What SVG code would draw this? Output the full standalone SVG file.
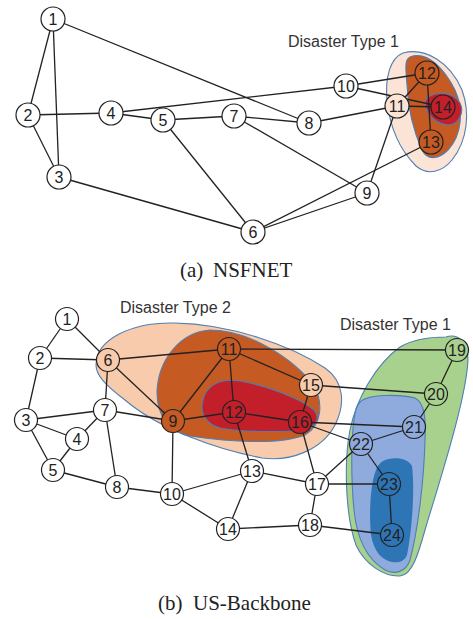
<svg xmlns="http://www.w3.org/2000/svg" width="473" height="619" viewBox="0 0 473 619">
<style>
.e{stroke:#222;stroke-width:1.3;fill:none}
.n circle{stroke:#222;stroke-width:1.2;fill:#fff}
.n text{font-family:"Liberation Sans",Arial,sans-serif;font-size:16px;fill:#222;text-anchor:middle}
.lbl{font-family:"Liberation Sans",Arial,sans-serif;font-size:16px;fill:#333}
.cap{font-family:"Liberation Serif","Times New Roman",serif;font-size:21px;fill:#222}
.ol{stroke:#4f7fb3;stroke-width:1.1}
</style>
<rect width="473" height="619" fill="#fff"/>
<!-- regions NSFNET -->
<g id="regions-a">
<path class="ol" fill="#fbe4d6" d="M403,53 C425,47 450,62 462,90 C470,112 468,140 452,160 C442,172 428,176 416,166 C402,152 390,130 387,100 C385,78 390,58 403,53 Z"/>
<path class="ol" fill="#c55a22" stroke-width="0.8" d="M410,57 C428,50 445,70 455,90 C464,110 462,135 448,150 C440,158 428,162 422,150 C414,132 408,110 407,85 C406,70 404,60 410,57 Z"/>
<path class="ol" fill="#c21f2a" d="M427,98 C435,92 452,90 460,103 C465,113 458,125 448,125 C438,124 430,118 426,108 C425,103 425,100 427,98 Z"/>
</g>
<!-- regions US-Backbone -->
<g id="regions-b">
<path class="ol" fill="#f8cbad" d="M96,365 C96,340 130,322 175,323 C230,324 290,345 325,368 C345,382 345,405 335,425 C322,450 290,462 262,458 C220,450 160,430 125,400 C105,385 96,375 96,365 Z"/>
<path class="ol" fill="#c55a22" stroke-width="0.8" d="M157,392 C158,360 180,332 210,330 C250,330 295,360 313,385 C324,402 322,425 305,435 C280,445 230,442 190,436 C168,432 157,415 157,392 Z"/>
<path class="ol" fill="#c21f2a" stroke-width="0.8" d="M202,405 C204,385 220,378 240,381 C265,385 300,398 314,410 C322,420 315,430 295,431 C270,432 240,432 220,428 C208,425 201,415 202,405 Z"/>
<path class="ol" fill="#a9d18e" d="M446,337 C458,333 468,342 468,360 C466,400 440,480 425,530 C418,555 412,575 400,576 C385,577 365,565 356,545 C345,515 344,460 350,430 C356,400 375,365 400,347 C415,338 432,337 446,337 Z"/>
<path class="ol" fill="#8faadc" d="M360,402 C368,394 400,394 415,398 C425,403 426,420 425,440 C424,480 418,530 410,560 C406,572 395,575 385,570 C368,560 357,540 354,510 C351,480 351,440 354,420 C355,410 357,405 360,402 Z"/>
<path fill="#2e75b6" d="M383,461 C393,456 408,458 412,466 C415,490 412,530 407,555 C404,562 398,563 392,562 C382,560 374,552 371,535 C369,515 370,485 376,470 C378,465 380,463 383,461 Z"/>
</g>
<g id="labels">
<text class="lbl" x="288" y="47">Disaster Type 1</text>
<text class="lbl" x="120" y="313">Disaster Type 2</text>
<text class="lbl" x="340" y="330">Disaster Type 1</text>
<text class="cap" x="180" y="277">(a)</text>
<text class="cap" x="213" y="277">NSFNET</text>
<text class="cap" x="158" y="610">(b)</text>
<text class="cap" x="193" y="610">US-Backbone</text>
</g>
<g id="connectors-a">
<line class="e" x1="53" y1="19" x2="28" y2="115"/>
<line class="e" x1="53" y1="19" x2="59" y2="177"/>
<line class="e" x1="53" y1="19" x2="309" y2="123"/>
<line class="e" x1="28" y1="115" x2="59" y2="177"/>
<line class="e" x1="28" y1="115" x2="111" y2="113"/>
<line class="e" x1="59" y1="177" x2="253" y2="232"/>
<line class="e" x1="111" y1="113" x2="163" y2="120"/>
<line class="e" x1="111" y1="113" x2="346" y2="86"/>
<line class="e" x1="163" y1="120" x2="234" y2="116"/>
<line class="e" x1="163" y1="120" x2="253" y2="232"/>
<line class="e" x1="234" y1="116" x2="309" y2="123"/>
<line class="e" x1="234" y1="116" x2="367" y2="193"/>
<line class="e" x1="309" y1="123" x2="397" y2="106"/>
<line class="e" x1="346" y1="86" x2="427" y2="73"/>
<line class="e" x1="346" y1="86" x2="443" y2="107"/>
<line class="e" x1="397" y1="106" x2="427" y2="73"/>
<line class="e" x1="397" y1="106" x2="443" y2="107"/>
<line class="e" x1="427" y1="73" x2="431" y2="142"/>
<line class="e" x1="397" y1="106" x2="367" y2="193"/>
<line class="e" x1="253" y1="232" x2="431" y2="142"/>
<line class="e" x1="253" y1="232" x2="367" y2="193"/>
</g>
<g id="connectors-b">
<line class="e" x1="67" y1="319" x2="40" y2="358"/>
<line class="e" x1="67" y1="319" x2="108" y2="360"/>
<line class="e" x1="40" y1="358" x2="108" y2="360"/>
<line class="e" x1="40" y1="358" x2="26" y2="420"/>
<line class="e" x1="26" y1="420" x2="105" y2="410"/>
<line class="e" x1="26" y1="420" x2="77" y2="439"/>
<line class="e" x1="26" y1="420" x2="53" y2="470"/>
<line class="e" x1="77" y1="439" x2="105" y2="410"/>
<line class="e" x1="77" y1="439" x2="53" y2="470"/>
<line class="e" x1="53" y1="470" x2="117" y2="487"/>
<line class="e" x1="108" y1="360" x2="105" y2="410"/>
<line class="e" x1="108" y1="360" x2="173" y2="421"/>
<line class="e" x1="108" y1="360" x2="229" y2="349"/>
<line class="e" x1="105" y1="410" x2="173" y2="421"/>
<line class="e" x1="105" y1="410" x2="117" y2="487"/>
<line class="e" x1="117" y1="487" x2="172" y2="494"/>
<line class="e" x1="173" y1="421" x2="172" y2="494"/>
<line class="e" x1="173" y1="421" x2="229" y2="349"/>
<line class="e" x1="173" y1="421" x2="234" y2="412"/>
<line class="e" x1="229" y1="349" x2="234" y2="412"/>
<line class="e" x1="229" y1="349" x2="311" y2="385"/>
<line class="e" x1="229" y1="349" x2="457" y2="350"/>
<line class="e" x1="234" y1="412" x2="300" y2="422"/>
<line class="e" x1="234" y1="412" x2="252" y2="471"/>
<line class="e" x1="311" y1="385" x2="300" y2="422"/>
<line class="e" x1="311" y1="385" x2="436" y2="394"/>
<line class="e" x1="300" y1="422" x2="414" y2="427"/>
<line class="e" x1="300" y1="422" x2="361" y2="444"/>
<line class="e" x1="300" y1="422" x2="317" y2="484"/>
<line class="e" x1="252" y1="471" x2="317" y2="484"/>
<line class="e" x1="252" y1="471" x2="172" y2="494"/>
<line class="e" x1="252" y1="471" x2="228" y2="529"/>
<line class="e" x1="172" y1="494" x2="228" y2="529"/>
<line class="e" x1="228" y1="529" x2="310" y2="525"/>
<line class="e" x1="310" y1="525" x2="317" y2="484"/>
<line class="e" x1="310" y1="525" x2="392" y2="535"/>
<line class="e" x1="317" y1="484" x2="361" y2="444"/>
<line class="e" x1="317" y1="484" x2="389" y2="484"/>
<line class="e" x1="361" y1="444" x2="414" y2="427"/>
<line class="e" x1="361" y1="444" x2="389" y2="484"/>
<line class="e" x1="389" y1="484" x2="392" y2="535"/>
<line class="e" x1="414" y1="427" x2="436" y2="394"/>
<line class="e" x1="436" y1="394" x2="457" y2="350"/>
</g>
<g id="nodes-a">
<g id="a1" class="n"><circle cx="53" cy="19" r="12"/><text x="53" y="24.7">1</text></g>
<g id="a2" class="n"><circle cx="28" cy="115" r="12"/><text x="28" y="120.7">2</text></g>
<g id="a3" class="n"><circle cx="59" cy="177" r="12"/><text x="59" y="182.7">3</text></g>
<g id="a4" class="n"><circle cx="111" cy="113" r="12"/><text x="111" y="118.7">4</text></g>
<g id="a5" class="n"><circle cx="163" cy="120" r="12"/><text x="163" y="125.7">5</text></g>
<g id="a6" class="n"><circle cx="253" cy="232" r="12"/><text x="253" y="237.7">6</text></g>
<g id="a7" class="n"><circle cx="234" cy="116" r="12"/><text x="234" y="121.7">7</text></g>
<g id="a8" class="n"><circle cx="309" cy="123" r="12"/><text x="309" y="128.7">8</text></g>
<g id="a9" class="n"><circle cx="367" cy="193" r="12"/><text x="367" y="198.7">9</text></g>
<g id="a10" class="n"><circle cx="346" cy="86" r="12"/><text x="346" y="91.7">10</text></g>
<g id="a11" class="n"><circle cx="397" cy="106" r="12" style="fill:#fbe4d6"/><text x="397" y="111.7">11</text></g>
<g id="a12" class="n"><circle cx="427" cy="73" r="12" style="fill:#c55a22"/><text x="427" y="78.7">12</text></g>
<g id="a13" class="n"><circle cx="431" cy="142" r="12" style="fill:#c55a22"/><text x="431" y="147.7">13</text></g>
<g id="a14" class="n"><circle cx="443" cy="107" r="12" style="fill:#c21f2a"/><text x="443" y="112.7">14</text></g>
</g>
<g id="nodes-b">
<g id="b1" class="n"><circle cx="67" cy="319" r="11.5"/><text x="67" y="324.7">1</text></g>
<g id="b2" class="n"><circle cx="40" cy="358" r="11.5"/><text x="40" y="363.7">2</text></g>
<g id="b3" class="n"><circle cx="26" cy="420" r="11.5"/><text x="26" y="425.7">3</text></g>
<g id="b4" class="n"><circle cx="77" cy="439" r="11.5"/><text x="77" y="444.7">4</text></g>
<g id="b5" class="n"><circle cx="53" cy="470" r="11.5"/><text x="53" y="475.7">5</text></g>
<g id="b6" class="n"><circle cx="108" cy="360" r="11.5" style="fill:#f8cbad"/><text x="108" y="365.7">6</text></g>
<g id="b7" class="n"><circle cx="105" cy="410" r="11.5"/><text x="105" y="415.7">7</text></g>
<g id="b8" class="n"><circle cx="117" cy="487" r="11.5"/><text x="117" y="492.7">8</text></g>
<g id="b9" class="n"><circle cx="173" cy="421" r="11.5" style="fill:#c55a22"/><text x="173" y="426.7">9</text></g>
<g id="b10" class="n"><circle cx="172" cy="494" r="11.5"/><text x="172" y="499.7">10</text></g>
<g id="b11" class="n"><circle cx="229" cy="349" r="11.5" style="fill:#c55a22"/><text x="229" y="354.7">11</text></g>
<g id="b12" class="n"><circle cx="234" cy="412" r="11.5" style="fill:#c21f2a"/><text x="234" y="417.7">12</text></g>
<g id="b13" class="n"><circle cx="252" cy="471" r="11.5"/><text x="252" y="476.7">13</text></g>
<g id="b14" class="n"><circle cx="228" cy="529" r="11.5"/><text x="228" y="534.7">14</text></g>
<g id="b15" class="n"><circle cx="311" cy="385" r="11.5" style="fill:#f8cbad"/><text x="311" y="390.7">15</text></g>
<g id="b16" class="n"><circle cx="300" cy="422" r="11.5" style="fill:#c21f2a"/><text x="300" y="427.7">16</text></g>
<g id="b17" class="n"><circle cx="317" cy="484" r="11.5"/><text x="317" y="489.7">17</text></g>
<g id="b18" class="n"><circle cx="310" cy="525" r="11.5"/><text x="310" y="530.7">18</text></g>
<g id="b19" class="n"><circle cx="457" cy="350" r="11.5" style="fill:#a9d18e"/><text x="457" y="355.7">19</text></g>
<g id="b20" class="n"><circle cx="436" cy="394" r="11.5" style="fill:#a9d18e"/><text x="436" y="399.7">20</text></g>
<g id="b21" class="n"><circle cx="414" cy="427" r="11.5" style="fill:#8faadc"/><text x="414" y="432.7">21</text></g>
<g id="b22" class="n"><circle cx="361" cy="444" r="11.5" style="fill:#8faadc"/><text x="361" y="449.7">22</text></g>
<g id="b23" class="n"><circle cx="389" cy="484" r="11.5" style="fill:#2e75b6"/><text x="389" y="489.7">23</text></g>
<g id="b24" class="n"><circle cx="392" cy="535" r="11.5" style="fill:#2e75b6"/><text x="392" y="540.7">24</text></g>
</g>
</svg>
